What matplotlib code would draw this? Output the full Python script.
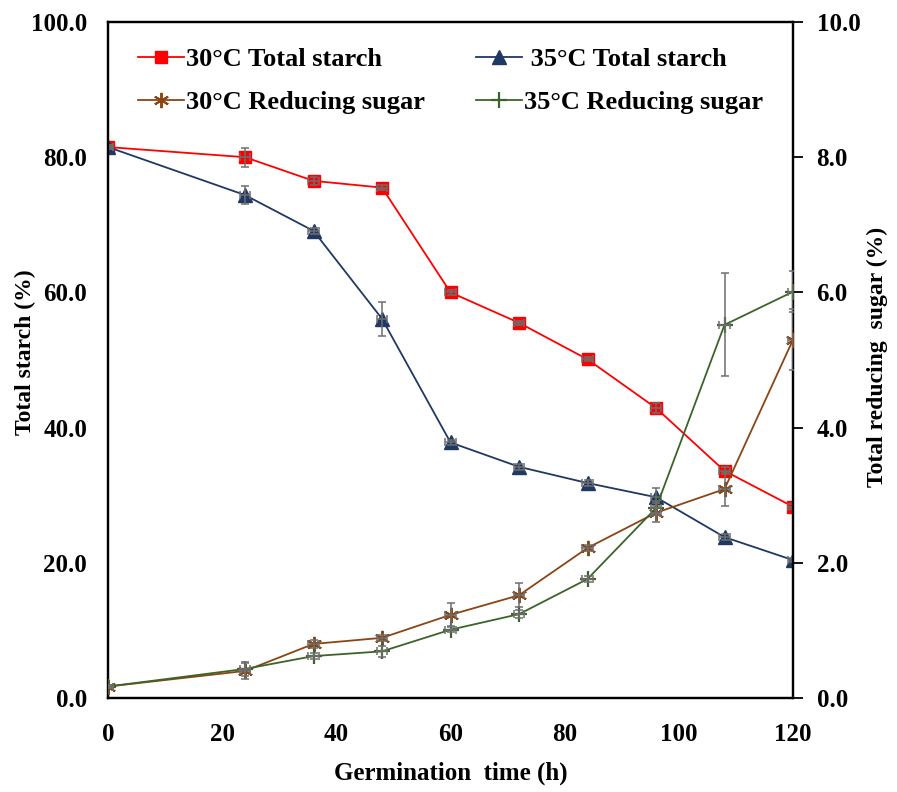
import matplotlib
matplotlib.use("Agg")
import matplotlib.pyplot as plt
from matplotlib.ticker import FormatStrFormatter

plt.rcParams['font.family'] = ['Liberation Serif', 'DejaVu Serif']
plt.rcParams['font.weight'] = 'bold'

# Germination time (h)
hours = [0, 24, 36, 48, 60, 72, 84, 96, 108, 120]

# Total starch (%)
starch_30 = [81.5, 80.0, 76.5, 75.5, 60.0, 55.5, 50.1, 42.9, 33.6, 28.3]
starch_30_sd = [0.3, 1.4, 0.6, 0.4, 0.4, 0.3, 0.3, 0.8, 0.5, 0.4]
starch_35 = [81.5, 74.4, 69.1, 56.1, 37.8, 34.2, 31.8, 29.7, 23.8, 20.4]
starch_35_sd = [0.3, 1.3, 0.4, 2.5, 0.4, 0.4, 0.4, 1.3, 0.4, 0.3]

# Total reducing sugar (%)
sugar_30 = [0.17, 0.40, 0.80, 0.89, 1.23, 1.52, 2.22, 2.74, 3.09, 5.30]
sugar_30_sd = [0.02, 0.12, 0.06, 0.04, 0.17, 0.18, 0.04, 0.14, 0.25, 0.45]
sugar_35 = [0.17, 0.43, 0.62, 0.69, 1.01, 1.24, 1.76, 2.81, 5.52, 6.01]
sugar_35_sd = [0.02, 0.10, 0.05, 0.08, 0.04, 0.06, 0.05, 0.10, 0.76, 0.30]

time_sd = 0.9

label_ts30 = "30\u00b0C Total starch"
label_ts35 = " 35\u00b0C Total starch"
label_rs30 = "30\u00b0C Reducing sugar"
label_rs35 = "35\u00b0C Reducing sugar"
x_ticks = [0, 20, 40, 60, 80, 100, 120]
left_ticks = [0, 20, 40, 60, 80, 100]
right_ticks = [0, 2, 4, 6, 8, 10]

c_red = "#FF0000"
c_navy = "#1F3864"
c_brown = "#8B4513"
c_green = "#3B6428"
c_err = "#6E6E6E"

fig = plt.figure(figsize=(8.97, 7.92), dpi=100)
ax = fig.add_axes([108 / 897, 1 - 698 / 792, 685 / 897, 676 / 792])
ax2 = ax.twinx()

fs = 18
err_kw = dict(fmt="none", ecolor=c_err, elinewidth=1.1, capsize=3, capthick=1.1, zorder=4)

h1, = ax.plot(hours, starch_30, color=c_red, lw=1.3, marker="s", ms=9,
              mec=c_red, mfc=c_red, zorder=3)
ax.errorbar(hours, starch_30, yerr=starch_30_sd, xerr=time_sd, **err_kw)
h2, = ax.plot(hours, starch_35, color=c_navy, lw=1.3, marker="^", ms=9.5,
              mec=c_navy, mfc=c_navy, zorder=3)
ax.errorbar(hours, starch_35, yerr=starch_35_sd, xerr=time_sd, **err_kw)

h3, = ax2.plot(hours, sugar_30, color=c_brown, lw=1.3, marker=(6, 2, 0), ms=11,
               mew=1.4, mec=c_brown, zorder=3)
ax2.errorbar(hours, sugar_30, yerr=sugar_30_sd, xerr=time_sd, **err_kw)
h4, = ax2.plot(hours, sugar_35, color=c_green, lw=1.3, marker="+", ms=11,
               mew=1.6, mec=c_green, zorder=3)
ax2.errorbar(hours, sugar_35, yerr=sugar_35_sd, xerr=time_sd, **err_kw)

ax.set_xlim(0, 120)
ax.set_ylim(0, 100)
ax2.set_ylim(0, 10)
ax.set_xticks(x_ticks)
ax.set_yticks(left_ticks)
ax2.set_yticks(right_ticks)
ax.yaxis.set_major_formatter(FormatStrFormatter("%.1f"))
ax2.yaxis.set_major_formatter(FormatStrFormatter("%.1f"))

ax.tick_params(axis="x", length=0, pad=18, labelsize=fs)
ax.tick_params(axis="y", length=0, pad=15, labelsize=fs)
ax2.tick_params(axis="y", direction="out", length=7, width=1.3, pad=10, labelsize=fs)
for a in (ax, ax2):
    for t in a.get_xticklabels() + a.get_yticklabels():
        t.set_fontweight("bold")
    for s in a.spines.values():
        s.set_linewidth(1.6)
        s.set_color("black")

ax.set_xlabel("Germination  time (h)", fontsize=fs, fontweight="bold")
ax.set_ylabel("Total starch (%)", fontsize=17, fontweight="bold")
ax2.set_ylabel("Total reducing  sugar (%)", fontsize=17, fontweight="bold")
ax.xaxis.set_label_coords(0.5, -0.094)
ax.yaxis.set_label_coords(-0.105, 0.512)
ax2.yaxis.set_label_coords(1.108, 0.504)

# two columns filled top-to-bottom: starch on the first row, sugar on the second
ax2.legend([h1, h3, h2, h4], [label_ts30, label_rs30, label_ts35, label_rs35],
           ncol=2, frameon=False,
           loc="upper left", bbox_to_anchor=(0.024, 0.982), borderpad=0,
           handlelength=1.75, handletextpad=0.1, columnspacing=1.9,
           labelspacing=0.75, prop=dict(size=19, weight="bold"))

fig.savefig("out.png", dpi=100)
